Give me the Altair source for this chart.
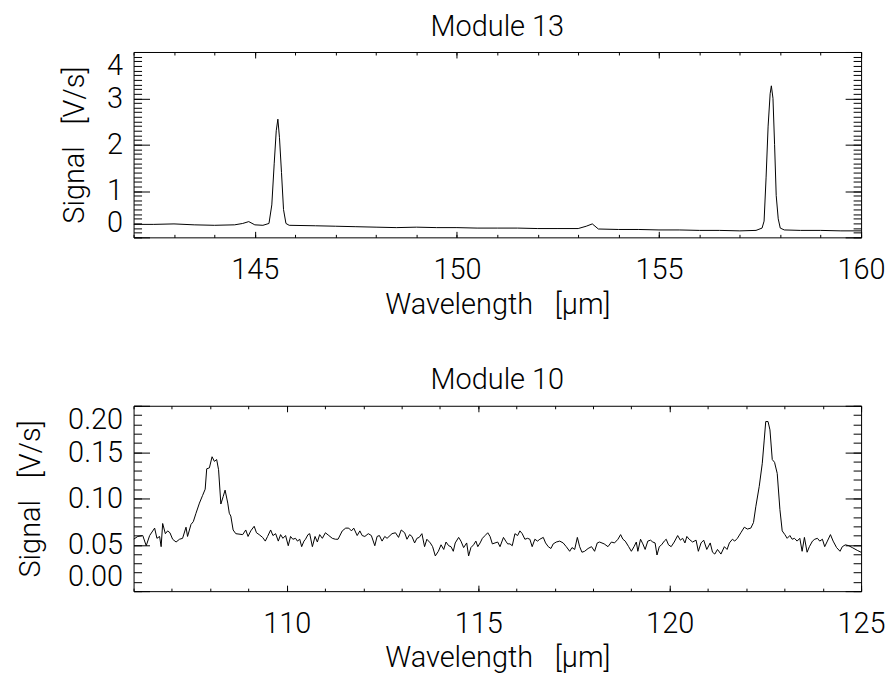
import altair as alt
import pandas as pd

# ---------------- data ----------------
m13_wavelength = [142.0, 142.5, 143.0, 143.5, 144.0, 144.5, 144.7, 144.85, 145.0, 145.2,
                  145.35, 145.42, 145.48, 145.53, 145.57, 145.61, 145.66, 145.71, 145.77, 145.85,
                  146.5, 147.0, 147.5, 148.0, 148.5, 149.0, 149.5, 150.0, 150.5, 151.0,
                  151.5, 152.0, 152.5, 153.0, 153.2, 153.35, 153.5, 154.0, 154.5, 155.0,
                  155.5, 156.0, 156.5, 157.0, 157.4, 157.55, 157.6, 157.65, 157.7, 157.75,
                  157.78, 157.82, 157.86, 157.9, 157.95, 158.0, 158.1, 158.5, 159.0, 159.5, 160.0]
m13_signal = [0.28, 0.28, 0.29, 0.27, 0.26, 0.27, 0.30, 0.34, 0.27, 0.26,
              0.30, 0.70, 1.60, 2.30, 2.55, 2.15, 1.40, 0.60, 0.30, 0.26,
              0.25, 0.24, 0.23, 0.22, 0.21, 0.22, 0.21, 0.21, 0.20, 0.20,
              0.20, 0.19, 0.19, 0.19, 0.24, 0.29, 0.18, 0.17, 0.17, 0.16,
              0.16, 0.15, 0.15, 0.14, 0.15, 0.20, 0.35, 1.30, 2.40, 3.10,
              3.27, 3.00, 2.00, 0.90, 0.40, 0.20, 0.16, 0.15, 0.15, 0.14, 0.14]

m10_wavelength = [106.00, 106.11, 106.24, 106.33, 106.42, 106.55, 106.61, 106.68, 106.72, 106.76,
                  106.83, 106.89, 106.95, 107.02, 107.11, 107.20, 107.28, 107.37, 107.41, 107.50,
                  107.56, 107.63, 107.72, 107.80, 107.87, 107.91, 107.98, 108.05, 108.11, 108.17,
                  108.22, 108.28, 108.34, 108.39, 108.46, 108.50, 108.54, 108.60, 108.67, 108.85,
                  108.93, 108.99, 109.06, 109.15, 109.21, 109.28, 109.37, 109.44, 109.50, 109.58,
                  109.64, 109.71, 109.78, 109.84, 109.90, 109.97, 110.04, 110.10, 110.16, 110.23,
                  110.28, 110.34, 110.39, 110.45, 110.49, 110.555, 110.60, 110.67, 110.74, 110.80,
                  110.86, 110.93, 111.01, 111.10, 111.19, 111.27, 111.34, 111.45, 111.54, 111.62,
                  111.69, 111.75, 111.84, 111.91, 111.97, 112.04, 112.13, 112.21, 112.30, 112.36,
                  112.42, 112.49, 112.56, 112.62, 112.75, 112.84, 112.92, 112.99, 113.08, 113.14,
                  113.21, 113.27, 113.34, 113.40, 113.46, 113.53, 113.60, 113.66, 113.75, 113.81,
                  113.88, 113.96, 114.03, 114.10, 114.16, 114.23, 114.29, 114.35, 114.40, 114.49,
                  114.55, 114.62, 114.70, 114.75, 114.81, 114.88, 114.94, 114.99, 115.05, 115.11,
                  115.18, 115.25, 115.31, 115.37, 115.44, 115.51, 115.57, 115.66, 115.72, 115.77,
                  115.83, 115.89, 115.96, 116.03, 116.09, 116.15, 116.22, 116.29, 116.35, 116.41,
                  116.48, 116.55, 116.61, 116.70, 116.76, 116.83, 116.90, 116.96, 117.04, 117.13,
                  117.22, 117.30, 117.39, 117.45, 117.52, 117.59, 117.65, 117.71, 117.78, 117.87,
                  117.96, 118.04, 118.11, 118.17, 118.29, 118.39, 118.48, 118.56, 118.65, 118.72,
                  118.78, 118.84, 118.93, 119.00, 119.07, 119.13, 119.17, 119.24, 119.30, 119.36,
                  119.43, 119.50, 119.56, 119.62, 119.67, 119.73, 119.79, 119.86, 119.91, 119.97,
                  120.04, 120.12, 120.21, 120.28, 120.34, 120.40, 120.45, 120.51, 120.60, 120.69,
                  120.75, 120.82, 120.89, 120.97, 121.06, 121.12, 121.18, 121.25, 121.34, 121.43,
                  121.50, 121.56, 121.64, 121.70, 121.77, 121.86, 121.95, 122.03, 122.12, 122.19,
                  122.25, 122.34, 122.42, 122.47, 122.51, 122.57, 122.62, 122.68, 122.74, 122.81,
                  122.88, 122.94, 123.01, 123.07, 123.14, 123.20, 123.26, 123.33, 123.40, 123.46,
                  123.52, 123.59, 123.65, 123.73, 123.79, 123.86, 123.92, 123.99, 124.05, 124.12,
                  124.20, 124.27, 124.36, 124.45, 124.51, 124.59, 124.68, 124.77, 124.90, 125.00]
m10_signal = [0.056, 0.059, 0.060, 0.049, 0.060, 0.068, 0.057, 0.059, 0.048, 0.073,
              0.062, 0.065, 0.063, 0.056, 0.053, 0.056, 0.057, 0.069, 0.059, 0.072,
              0.075, 0.084, 0.095, 0.103, 0.110, 0.132, 0.133, 0.145, 0.140, 0.142,
              0.131, 0.094, 0.102, 0.109, 0.095, 0.084, 0.081, 0.066, 0.062, 0.061,
              0.066, 0.059, 0.065, 0.070, 0.063, 0.061, 0.058, 0.054, 0.059, 0.066,
              0.060, 0.062, 0.054, 0.061, 0.057, 0.060, 0.049, 0.059, 0.056, 0.057,
              0.054, 0.056, 0.048, 0.054, 0.056, 0.061, 0.062, 0.048, 0.059, 0.053,
              0.061, 0.057, 0.063, 0.060, 0.057, 0.056, 0.056, 0.065, 0.068, 0.068,
              0.065, 0.068, 0.060, 0.065, 0.060, 0.059, 0.062, 0.060, 0.049, 0.059,
              0.060, 0.054, 0.059, 0.057, 0.062, 0.063, 0.058, 0.066, 0.063, 0.056,
              0.061, 0.059, 0.052, 0.057, 0.058, 0.062, 0.048, 0.056, 0.052, 0.048,
              0.038, 0.043, 0.050, 0.045, 0.053, 0.049, 0.048, 0.043, 0.052, 0.058,
              0.054, 0.047, 0.052, 0.038, 0.047, 0.050, 0.054, 0.048, 0.052, 0.057,
              0.060, 0.063, 0.059, 0.051, 0.052, 0.053, 0.048, 0.058, 0.054, 0.051,
              0.051, 0.049, 0.062, 0.060, 0.065, 0.062, 0.056, 0.057, 0.056, 0.048,
              0.056, 0.054, 0.056, 0.058, 0.052, 0.048, 0.046, 0.051, 0.053, 0.054,
              0.052, 0.048, 0.043, 0.047, 0.045, 0.058, 0.048, 0.042, 0.043, 0.046,
              0.048, 0.043, 0.052, 0.053, 0.051, 0.048, 0.053, 0.052, 0.056, 0.061,
              0.056, 0.054, 0.048, 0.043, 0.048, 0.053, 0.043, 0.056, 0.051, 0.045,
              0.054, 0.055, 0.053, 0.052, 0.039, 0.048, 0.050, 0.054, 0.056, 0.050,
              0.048, 0.053, 0.060, 0.055, 0.057, 0.052, 0.059, 0.056, 0.053, 0.055,
              0.043, 0.052, 0.055, 0.045, 0.052, 0.042, 0.040, 0.045, 0.040, 0.048,
              0.045, 0.052, 0.056, 0.054, 0.057, 0.063, 0.069, 0.067, 0.068, 0.074,
              0.091, 0.113, 0.138, 0.163, 0.183, 0.183, 0.174, 0.142, 0.139, 0.127,
              0.088, 0.065, 0.061, 0.057, 0.060, 0.056, 0.057, 0.054, 0.057, 0.043,
              0.058, 0.042, 0.048, 0.054, 0.056, 0.057, 0.054, 0.056, 0.048, 0.054,
              0.061, 0.054, 0.047, 0.043, 0.048, 0.050, 0.049, 0.047, 0.044, 0.042]

# axis tick values
m13_x_major = [145, 150, 155, 160]
m13_x_minor = list(range(142, 161))
m13_y_major = [0, 1, 2, 3, 4]
m13_y_minor = [round(i * 0.1, 1) for i in range(41)]

m10_x_major = [110, 115, 120, 125]
m10_x_minor = list(range(106, 126))
m10_y_major = [0.0, 0.05, 0.10, 0.15, 0.20]
m10_y_minor = [round(i * 0.01, 2) for i in range(21)]

X_TITLE = "Wavelength\u2002 [μm]"
Y_TITLE = "Signal\u2002 [V/s]"

FONT = "Roboto"
W, H = 730, 186
XMAJ, XMIN, YMAJ, YMIN = 6, 3, 16, 8


def ax(orient, values, size, **kw):
    opts = dict(orient=orient, values=values, tickSize=size, offset=-size,
                domain=False, grid=False, tickColor="black", tickWidth=1)
    opts.update(kw)
    return alt.Axis(**opts)


def panel(wl, sig, title, xdom, ydom, xmaj, xmin, ymaj, ymin, yfmt, ytitlepad):
    df = pd.DataFrame({"wavelength": wl, "signal": sig})
    xs = alt.Scale(domain=xdom, nice=False, zero=False)
    ys = alt.Scale(domain=ydom, nice=False, zero=False)
    base = alt.Chart(df)

    main = base.mark_line(color="black", strokeWidth=1, clip=True).encode(
        x=alt.X("wavelength:Q", scale=xs,
                axis=ax("bottom", xmaj, XMAJ, labels=True, format="d", labelFlush=False,
                        labelOverlap=False, labelPadding=18,
                        title=X_TITLE, titlePadding=6)),
        y=alt.Y("signal:Q", scale=ys,
                axis=ax("left", ymaj, YMAJ, labels=True, format=yfmt, labelFlush=True,
                        labelOverlap=False, labelPadding=11,
                        title=Y_TITLE, titlePadding=ytitlepad)),
    )
    minor_bl = base.mark_line(opacity=0).encode(
        x=alt.X("wavelength:Q", scale=xs, axis=ax("bottom", xmin, XMIN, labels=False, title=None)),
        y=alt.Y("signal:Q", scale=ys, axis=ax("left", ymin, YMIN, labels=False, title=None)),
    )
    major_tr = base.mark_line(opacity=0).encode(
        x=alt.X("wavelength:Q", scale=xs, axis=ax("top", xmaj, XMAJ, labels=False, title=None)),
        y=alt.Y("signal:Q", scale=ys, axis=ax("right", ymaj, YMAJ, labels=False, title=None)),
    )
    minor_tr = base.mark_line(opacity=0).encode(
        x=alt.X("wavelength:Q", scale=xs, axis=ax("top", xmin, XMIN, labels=False, title=None)),
        y=alt.Y("signal:Q", scale=ys, axis=ax("right", ymin, YMIN, labels=False, title=None)),
    )
    return (
        alt.layer(main, minor_bl, major_tr, minor_tr)
        .resolve_axis(x="independent", y="independent")
        .properties(
            width=W, height=H,
            title=alt.TitleParams(title, fontSize=29, font=FONT, fontWeight=300,
                                  color="black", anchor="middle", offset=10),
        )
    )


top = panel(m13_wavelength, m13_signal, "Module 13", [142, 160], [0, 4],
            m13_x_major, m13_x_minor, m13_y_major, m13_y_minor, "d", 17)
bottom = panel(m10_wavelength, m10_signal, "Module 10", [106, 125], [0, 0.2],
               m10_x_major, m10_x_minor, m10_y_major, m10_y_minor, ".2f", 22)

chart = (
    alt.vconcat(top, bottom, spacing=46)
    .properties(padding={"left": 8, "top": 3, "right": 0, "bottom": 0})
    .configure(background="white")
    .configure_view(stroke="black", strokeWidth=1)
    .configure_axis(labelFont=FONT, labelFontSize=29, labelFontWeight=300, labelColor="black",
                    titleFont=FONT, titleFontSize=29, titleFontWeight=300, titleColor="black")
)

chart.save("out.html", embed_options={"renderer": "svg", "actions": False})
